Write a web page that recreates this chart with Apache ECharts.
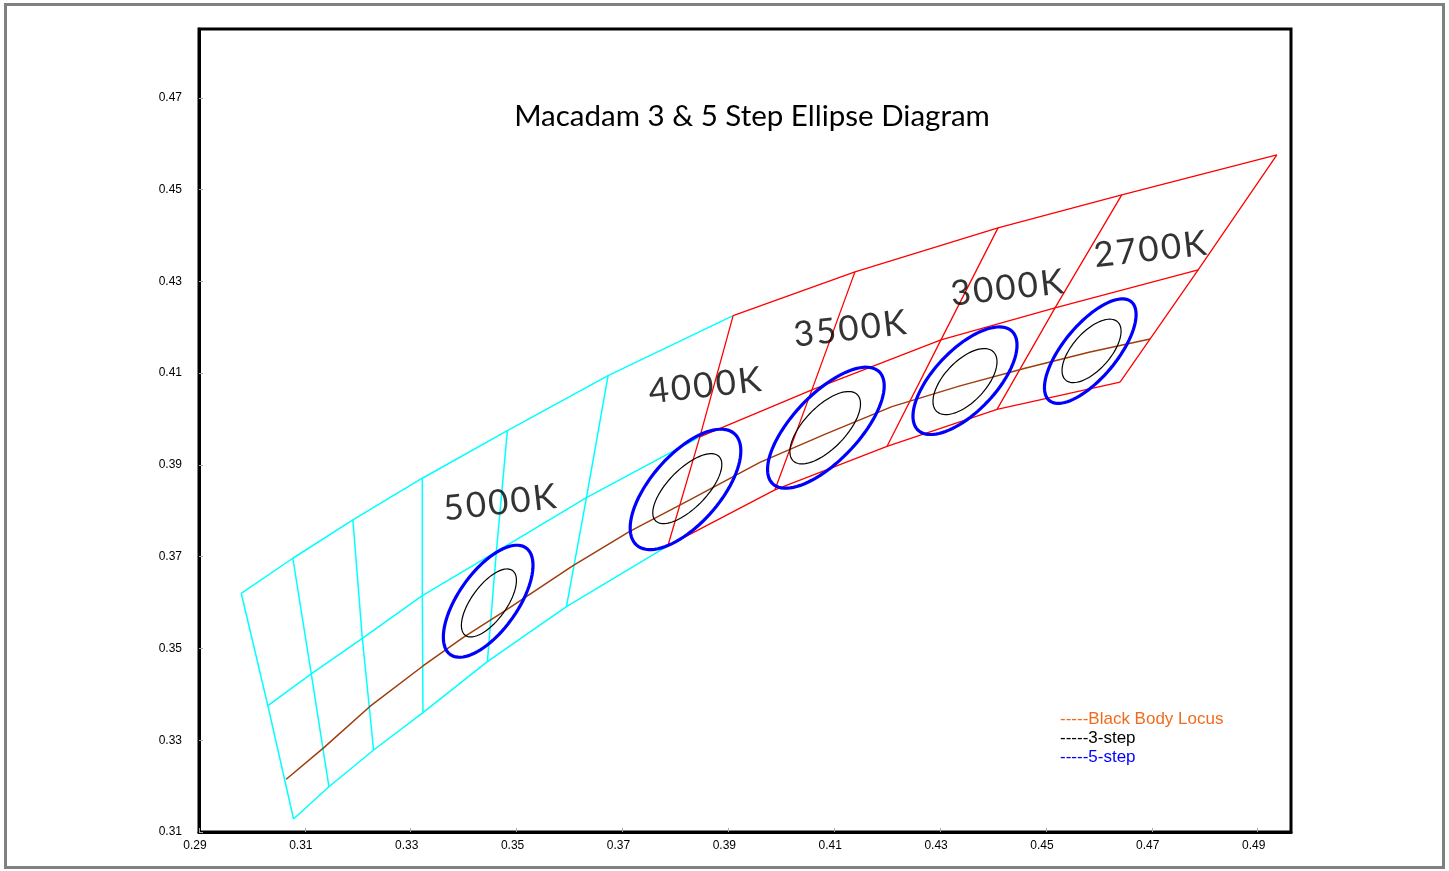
<!DOCTYPE html>
<html><head><meta charset="utf-8">
<script src="https://cdn.jsdelivr.net/npm/echarts@6/dist/echarts.min.js"></script>
<style>html,body{margin:0;padding:0;background:#fff}#c{width:1449px;height:871px}</style>
</head><body><div id="c"></div>
<script>
// ---- axis ranges ----
const xRange = [0.29, 0.4963];
const yRange = [0.31, 0.485];
const tickStep = 0.02;

// ---- cyan quadrangle grid (top / middle / bottom boundary lines) ----
const cyanTop = [[0.29798,0.36203],[0.30773,0.36966],[0.31907,0.37801],[0.33219,0.38710],[0.34826,0.39748],[0.36728,0.40947],[0.39091,0.42254]];
const cyanMid = [[0.30301,0.33753],[0.31121,0.34444],[0.32085,0.35222],[0.33219,0.36151],[0.34618,0.37110],[0.36320,0.38287],[0.38462,0.39610]];
const cyanBot = [[0.30786,0.31283],[0.31454,0.31987],[0.32299,0.32787],[0.33231,0.33600],[0.34448,0.34712],[0.35942,0.35911],[0.37857,0.37234]];

// ---- red quadrangle grid ----
const redTop = [[0.39091,0.42254],[0.41392,0.43207],[0.44095,0.44166],[0.46433,0.44885],[0.49363,0.45757]];
const redMid = [[0.38462,0.39610],[0.40579,0.40635],[0.43017,0.41725],[0.45172,0.42422],[0.47876,0.43251]];
const redBot = [[0.37857,0.37234],[0.39879,0.38455],[0.41997,0.39403],[0.44076,0.40210],[0.46401,0.40803]];

// ---- black body locus ----
const locus = [[0.30648,0.32149],[0.31359,0.32838],[0.32223,0.33731],[0.33231,0.34618],[0.33987,0.35235],[0.34807,0.35839],
  [0.36066,0.36805],[0.37138,0.37550],[0.38272,0.38237],[0.39596,0.39054],[0.40843,0.39676],[0.42091,0.40271],
  [0.43377,0.40722],[0.44624,0.41114],[0.45834,0.41463],[0.46968,0.41746]];

// ---- ellipses: [centre x, centre y, half width (x), half height (y), x-y correlation] ----
const ellipse5 = [[0.34463,0.36029,0.008469,0.012207,0.64],[0.38191,0.38466,0.010454,0.013122,0.64],[0.40843,0.39811,0.011021,0.013188,0.69],
  [0.43471,0.40835,0.009830,0.011727,0.66],[0.45838,0.41480,0.008658,0.011379,0.70]];
const ellipse3 = [[0.34477,0.35992,0.005199,0.007411,0.66],[0.38225,0.38483,0.006522,0.007629,0.69],[0.40830,0.39811,0.006673,0.007891,0.66],
  [0.43471,0.40816,0.006049,0.007193,0.60],[0.45862,0.41485,0.005577,0.006910,0.62]];

// ---- CCT labels ----
const cctNames = ['5000K','4000K','3500K','3000K','2700K'];
const cctPos = [[0.34681,0.38170],[0.38556,0.40720],[0.41297,0.41960],[0.44265,0.42850],[0.46968,0.43690]];

const titleText = 'Macadam 3 & 5 Step Ellipse Diagram';
const legendItems = ['-----Black Body Locus','-----3-step','-----5-step'];

function lineSeries(pts, color, width){
  return {type:'line', data:pts, showSymbol:false, silent:true, animation:false,
    lineStyle:{color:color, width:width}, z:2};
}
const series = [];
[cyanTop,cyanMid,cyanBot].forEach(l=>series.push(lineSeries(l,'#00FFFF',1.5)));
for(let i=0;i<cyanTop.length-1;i++) series.push(lineSeries([cyanTop[i],cyanMid[i],cyanBot[i]],'#00FFFF',1.5));
[redTop,redMid,redBot].forEach(l=>series.push(lineSeries(l,'#FF0000',1.3)));
for(let i=0;i<redTop.length;i++) series.push(lineSeries([redTop[i],redMid[i],redBot[i]],'#FF0000',1.3));
series.push(lineSeries(locus,'#9E3D0E',1.5));

function ellipseSeries(data,color,width){
  return {type:'custom', data:data, silent:true, animation:false, z:5,
    encode:{x:0,y:1},
    renderItem:function(params, api){
      const cx=api.value(0), cy=api.value(1), hw=api.value(2), hh=api.value(3), r=api.value(4);
      const s=Math.sqrt(1-r*r), pts=[];
      for(let k=0;k<=90;k++){
        const t=k/90*2*Math.PI;
        pts.push(api.coord([cx+hw*Math.cos(t), cy+hh*(r*Math.cos(t)-s*Math.sin(t))]));
      }
      return {type:'polygon', shape:{points:pts}, style:{fill:'none', stroke:color, lineWidth:width}};
    }};
}
series.push(ellipseSeries(ellipse5,'#0000FF',3.2));
series.push(ellipseSeries(ellipse3,'#000000',1.2));

const spaced = s => s.split('').join('\u200A');
series.push({type:'scatter', symbolSize:0, silent:true, animation:false, z:6,
  data:cctPos.map((p,i)=>({value:p, name:cctNames[i]})),
  label:{show:true, position:'inside', formatter:p=>spaced(p.name), rotate:6.5, color:'#000',
    fontFamily:'Lato', fontSize:35}});

const chart = echarts.init(document.getElementById('c'), null, {renderer:'canvas'});
chart.setOption({
  backgroundColor:'#fff',
  animation:false,
  grid:{left:199, right:158, top:29, bottom:39, show:true, borderColor:'#000', borderWidth:3},
  xAxis:{type:'value', min:xRange[0], max:xRange[1], interval:tickStep,
    splitLine:{show:false},
    axisLine:{lineStyle:{color:'#000', width:3}},
    axisTick:{inside:true, length:4, lineStyle:{color:'#aaa'}},
    axisLabel:{showMaxLabel:false, margin:8, color:'#000', fontSize:12, fontFamily:'Liberation Sans',
      padding:[0,8,0,0], formatter:v=>v.toFixed(2)}},
  yAxis:{type:'value', min:yRange[0], max:yRange[1], interval:tickStep,
    splitLine:{show:false},
    axisLine:{lineStyle:{color:'#000', width:3}},
    axisTick:{inside:true, length:4, lineStyle:{color:'#aaa'}},
    axisLabel:{showMaxLabel:false, margin:17, color:'#000', fontSize:12, fontFamily:'Liberation Sans',
      formatter:v=>v.toFixed(2)}},
  graphic:[
    {type:'rect', shape:{x:5.5,y:4.5,width:1438,height:863}, style:{fill:'none', stroke:'#808080', lineWidth:3}, silent:true},
    {type:'text', x:752, y:116, style:{text:titleText, font:'29.5px Lato', fill:'#000', textAlign:'center', textVerticalAlign:'middle'}},
    {type:'text', x:1060, y:719, style:{text:legendItems[0], font:'17px "Liberation Sans"', fill:'#F26B1D', textVerticalAlign:'middle'}},
    {type:'text', x:1060, y:738, style:{text:legendItems[1], font:'17px "Liberation Sans"', fill:'#000', textVerticalAlign:'middle'}},
    {type:'text', x:1060, y:757, style:{text:legendItems[2], font:'17px "Liberation Sans"', fill:'#0000FF', textVerticalAlign:'middle'}}
  ],
  series:series
});
</script></body></html>
